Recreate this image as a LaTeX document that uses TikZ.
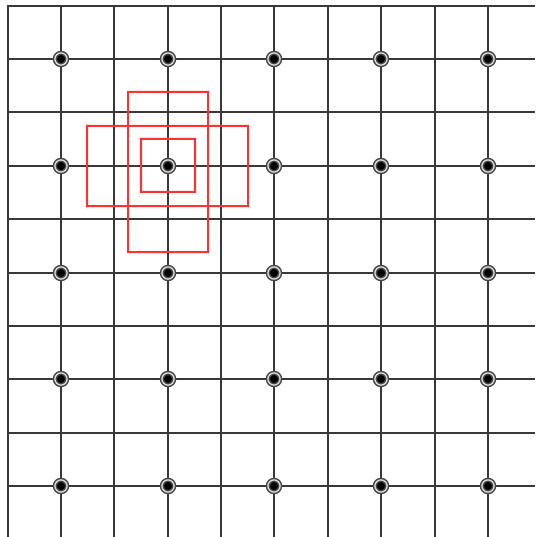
\documentclass[tikz,border=0pt]{standalone}
\definecolor{boxred}{RGB}{250,50,50}
\begin{document}
\begin{tikzpicture}[x=1pt,y=-1pt,
  gridline/.style={fill=black!78},
  redbox/.style={fill=boxred, even odd rule},
  gdot/.style={circle, fill=black, minimum size=12.2pt, inner sep=0pt,
    draw=black!72, double=gray!30, double distance=1.3pt, line width=1.5pt}]
\useasboundingbox (0,0) rectangle (535,537);
% grid (pixel-aligned filled strips, 2px wide)
\foreach \k [evaluate=\k as \xc using {int(round(7.5+53.4*\k))},
             evaluate=\k as \yc using {int(round(5.7+53.4*\k))}] in {0,...,9} {
  \fill[gridline] (\xc-1,5) rectangle (\xc+1,537);
  \fill[gridline] (7,\yc-1) rectangle (535,\yc+1);
}
% red boxes: #1 left, #2 top, #3 right, #4 bottom (line centres)
\newcommand\redframe[4]{%
  \fill[redbox] (#1-1,#2-1) rectangle (#3+1,#4+1) (#1+1,#2+1) rectangle (#3-1,#4-1);}
\redframe{141}{139}{195}{192}
\redframe{87}{126}{248}{206}
\redframe{128}{92}{208}{252}
% dots
\foreach \i in {1,3,5,7,9} {
  \foreach \j in {1,3,5,7,9} {
    \pgfmathsetmacro\dx{int(round(7.5+53.4*\i))}
    \pgfmathsetmacro\dy{int(round(5.7+53.4*\j))}
    \node[gdot] (d-\i-\j) at (\dx,\dy) {};
  }
}
\end{tikzpicture}
\end{document}
